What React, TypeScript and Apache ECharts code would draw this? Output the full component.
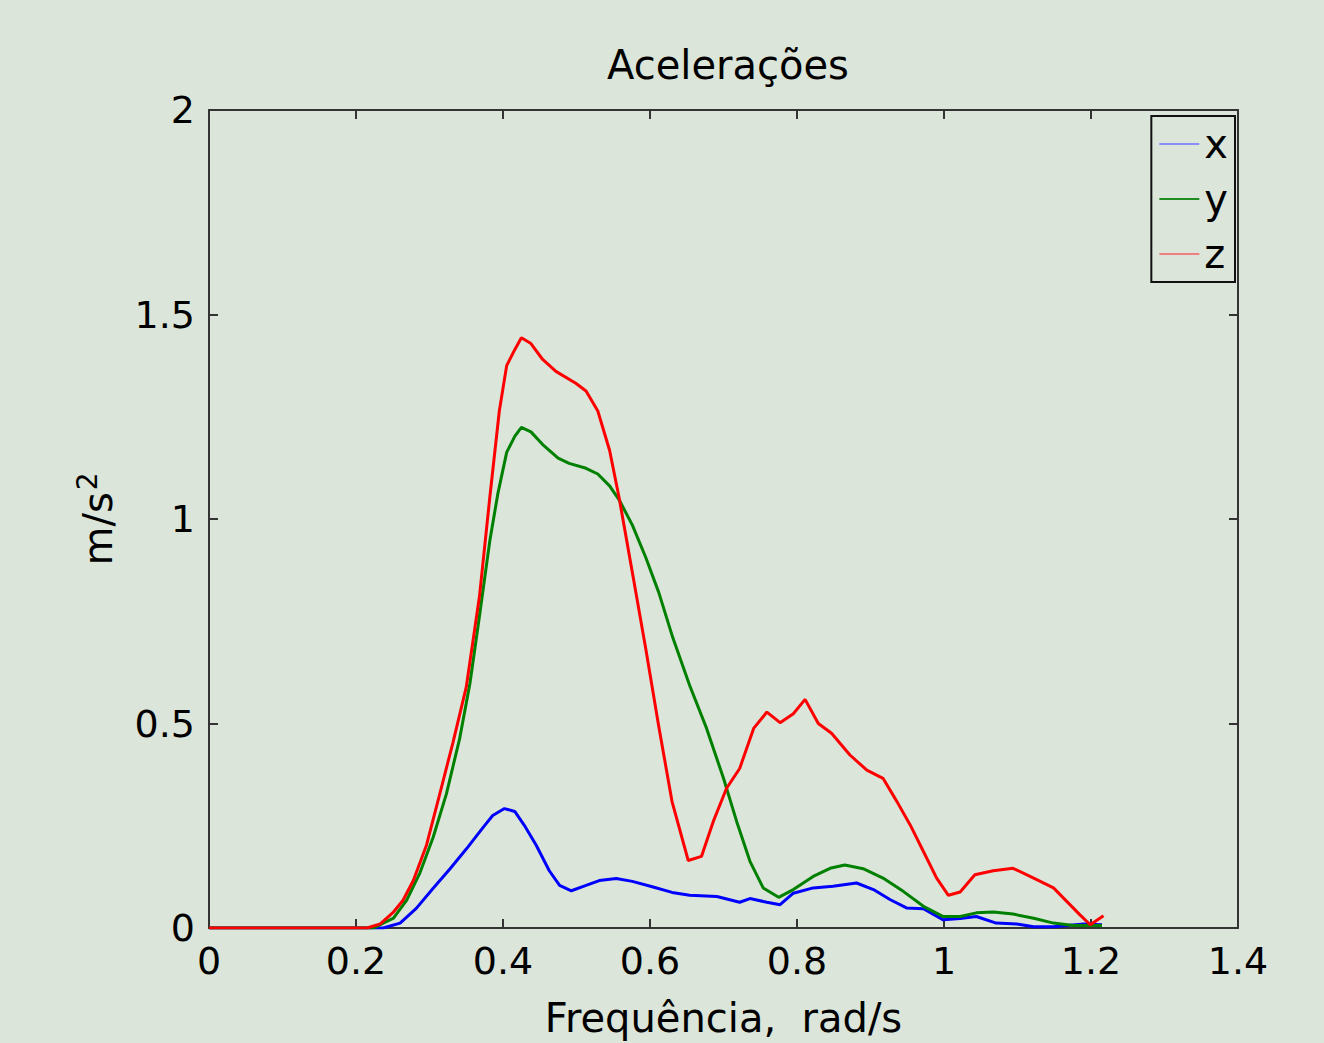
import React, { useEffect, useRef } from "react";
import * as echarts from "echarts";

const titleText = "Acelerações";
const xTicks = [0, 0.2, 0.4, 0.6, 0.8, 1, 1.2, 1.4];
const yTicks = [0, 0.5, 1, 1.5, 2];
const seriesNames = ["x", "y", "z"];

const xData: [number, number][] = [
  [0, 0], [0.237, 0], [0.26, 0.012], [0.282, 0.048], [0.305, 0.097], [0.328, 0.145],
  [0.35, 0.193], [0.373, 0.246], [0.386, 0.275], [0.402, 0.292], [0.416, 0.285],
  [0.429, 0.251], [0.445, 0.203], [0.463, 0.14], [0.477, 0.104], [0.493, 0.091],
  [0.513, 0.104], [0.531, 0.116], [0.554, 0.121], [0.576, 0.114], [0.603, 0.101],
  [0.63, 0.087], [0.654, 0.08], [0.691, 0.077], [0.722, 0.063], [0.736, 0.072],
  [0.759, 0.063], [0.777, 0.057], [0.795, 0.085], [0.822, 0.098], [0.849, 0.102],
  [0.881, 0.11], [0.904, 0.094], [0.927, 0.069], [0.949, 0.049], [0.972, 0.047],
  [0.999, 0.02], [1.022, 0.023], [1.044, 0.028], [1.071, 0.012], [1.099, 0.01],
  [1.122, 0.003], [1.149, 0.003], [1.19, 0.01], [1.215, 0.008],
];

const yData: [number, number][] = [
  [0, 0], [0.224, 0], [0.251, 0.024], [0.269, 0.068], [0.287, 0.135], [0.305, 0.222],
  [0.323, 0.328], [0.341, 0.463], [0.355, 0.598], [0.368, 0.763], [0.382, 0.946],
  [0.393, 1.062], [0.405, 1.163], [0.416, 1.202], [0.425, 1.224], [0.438, 1.213],
  [0.454, 1.182], [0.475, 1.149], [0.49, 1.136], [0.513, 1.124], [0.529, 1.11],
  [0.545, 1.081], [0.558, 1.047], [0.576, 0.985], [0.594, 0.907], [0.612, 0.82],
  [0.631, 0.71], [0.654, 0.593], [0.677, 0.488], [0.7, 0.366], [0.718, 0.26],
  [0.736, 0.163], [0.754, 0.098], [0.775, 0.075], [0.795, 0.094], [0.822, 0.126],
  [0.845, 0.146], [0.865, 0.154], [0.89, 0.145], [0.917, 0.122], [0.945, 0.089],
  [0.972, 0.053], [0.999, 0.028], [1.022, 0.028], [1.044, 0.037], [1.067, 0.039],
  [1.094, 0.034], [1.122, 0.024], [1.149, 0.012], [1.176, 0.006], [1.215, 0.006],
];

const zData: [number, number][] = [
  [0, 0], [0.215, 0], [0.233, 0.01], [0.251, 0.039], [0.264, 0.068], [0.278, 0.116],
  [0.296, 0.203], [0.314, 0.328], [0.332, 0.454], [0.35, 0.589], [0.368, 0.811],
  [0.382, 1.052], [0.395, 1.264], [0.405, 1.375], [0.416, 1.414], [0.425, 1.443],
  [0.438, 1.429], [0.454, 1.39], [0.472, 1.361], [0.499, 1.332], [0.513, 1.313],
  [0.529, 1.264], [0.545, 1.168], [0.558, 1.052], [0.576, 0.869], [0.594, 0.685],
  [0.612, 0.492], [0.63, 0.309], [0.652, 0.165], [0.67, 0.175], [0.686, 0.26],
  [0.704, 0.341], [0.722, 0.39], [0.741, 0.488], [0.759, 0.528], [0.777, 0.502],
  [0.795, 0.524], [0.811, 0.559], [0.829, 0.5], [0.847, 0.476], [0.872, 0.423],
  [0.895, 0.386], [0.917, 0.366], [0.936, 0.309], [0.954, 0.252], [0.972, 0.187],
  [0.99, 0.122], [1.006, 0.08], [1.022, 0.088], [1.042, 0.13], [1.067, 0.14],
  [1.094, 0.146], [1.122, 0.122], [1.149, 0.098], [1.167, 0.065], [1.185, 0.032],
  [1.199, 0.008], [1.217, 0.03],
];

const colors = ["#0000ff", "#008000", "#ff0000"];
const legendColors = ["#8c8cf5", "#1e8c1e", "#f08080"];

export default function App() {
  const ref = useRef<HTMLDivElement>(null);
  useEffect(() => {
    if (!ref.current) return;
    const chart = echarts.init(ref.current, undefined, { renderer: "svg" });
    const font = "DejaVu Sans";
    const axisLine = { show: true, onZero: false, lineStyle: { color: "#333", width: 2 } };
    const axisTick = { show: true, inside: true, length: 9, lineStyle: { color: "#333", width: 2 } };
    const datasets = [xData, yData, zData];
    chart.setOption({
      animation: false,
      backgroundColor: "#dbe5d9",
      textStyle: { fontFamily: font },
      title: {
        text: titleText,
        left: 723,
        textAlign: "center",
        top: 40,
        textStyle: { fontFamily: font, fontSize: 40, fontWeight: "normal", color: "#000" },
      },
      grid: { left: 209, right: 86, top: 110, bottom: 113, containLabel: false },
      legend: {
        orient: "vertical",
        right: 1324 - 1235,
        top: 116,
        data: seriesNames.map((n, i) => ({ name: n, itemStyle: { color: legendColors[i] } })),
        itemWidth: 40,
        itemHeight: 2,
        itemGap: 15,
        padding: [8, 7, 8, 8],
        borderColor: "#111",
        borderWidth: 2,
        backgroundColor: "#dbe5d9",
        icon: "rect",
        textStyle: { fontFamily: font, fontSize: 40, color: "#000", lineHeight: 40, padding: [0, 0, 0, 0] },
      },
      xAxis: [
        {
          type: "value",
          min: 0,
          max: 1.4,
          interval: 0.2,
          name: "Frequência,  rad/s",
          nameLocation: "middle",
          nameGap: 70,
          nameTextStyle: { fontFamily: font, fontSize: 40, color: "#000" },
          axisLine,
          axisTick,
          splitLine: { show: false },
          axisLabel: {
            fontFamily: font,
            fontSize: 38,
            color: "#000",
            margin: 14,
            formatter: (v: number) => String(Number(v.toFixed(1))),
          },
          data: xTicks,
        },
        {
          type: "value",
          min: 0,
          max: 1.4,
          interval: 0.2,
          position: "top",
          axisLine,
          axisTick,
          splitLine: { show: false },
          axisLabel: { show: false },
        },
      ],
      yAxis: [
        {
          type: "value",
          min: 0,
          max: 2,
          interval: 0.5,
          name: "m/s{sup|2}",
          nameLocation: "middle",
          nameGap: 86,
          nameRotate: 90,
          nameTextStyle: {
            fontFamily: font,
            fontSize: 40,
            color: "#000",
            rich: { sup: { fontFamily: font, fontSize: 28, color: "#000", verticalAlign: "top", padding: [0, 0, 22, 2] } },
          },
          axisLine,
          axisTick,
          splitLine: { show: false },
          axisLabel: { fontFamily: font, fontSize: 38, color: "#000", margin: 14 },
          data: yTicks,
        },
        {
          type: "value",
          min: 0,
          max: 2,
          interval: 0.5,
          position: "right",
          axisLine,
          axisTick,
          splitLine: { show: false },
          axisLabel: { show: false },
        },
      ],
      series: seriesNames.map((name, i) => ({
        name,
        type: "line",
        xAxisIndex: 0,
        yAxisIndex: 0,
        data: datasets[i],
        showSymbol: false,
        symbol: "none",
        smooth: false,
        color: colors[i],
        lineStyle: { color: colors[i], width: 3 },
        z: 3 + i,
      })),
    });
    return () => chart.dispose();
  }, []);
  return <div ref={ref} style={{ position: "fixed", left: 0, top: 0, width: 1324, height: 1043 }} />;
}
